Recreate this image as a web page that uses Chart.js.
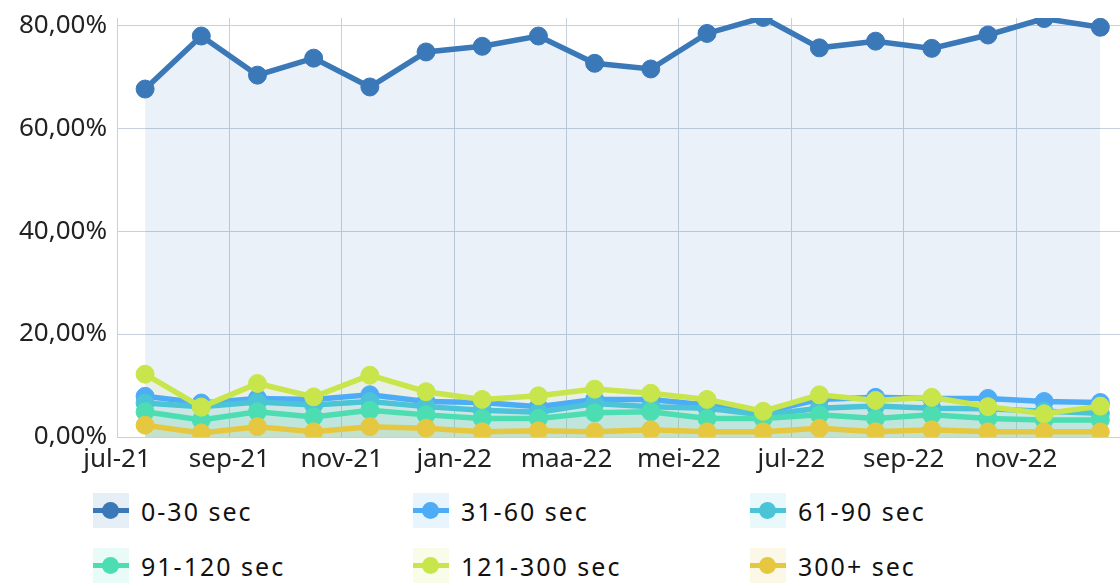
<!DOCTYPE html>
<html>
<head>
<meta charset="utf-8">
<script src="https://cdn.jsdelivr.net/npm/chart.js@4/dist/chart.umd.min.js"></script>
<style>
  html, body { margin: 0; padding: 0; background: #fff; overflow: hidden; }
  body { width: 1120px; height: 583px; position: relative; font-family: "Noto Sans", sans-serif; }
  #chart { position: absolute; left: 0; top: 0; }
  .item { position: absolute; height: 35px; display: flex; align-items: center; }
  .mark { position: relative; width: 36px; height: 35px; margin-right: 12px; }
  .mark .ln { position: absolute; left: 0; right: 0; top: 15px; height: 5px; }
  .mark .dot { position: absolute; left: 9px; top: 9px; width: 17px; height: 17px; border-radius: 50%; }
  .item span { font-size: 25px; letter-spacing: 2px; color: #111; }
</style>
</head>
<body>
<canvas id="chart" width="1120" height="475"></canvas>
<div id="legend"></div>
<script>
"use strict";
const months = ["jul-21", "aug-21", "sep-21", "okt-21", "nov-21", "dec-21", "jan-22", "feb-22", "maa-22",
  "apr-22", "mei-22", "jun-22", "jul-22", "aug-22", "sep-22", "okt-22", "nov-22", "dec-22"];
const xTickLabels = ["jul-21", "sep-21", "nov-21", "jan-22", "maa-22", "mei-22", "jul-22", "sep-22", "nov-22"];
const yTicks = [0, 20, 40, 60, 80];

const seriesNames = ["0-30 sec", "31-60 sec", "61-90 sec", "91-120 sec", "121-300 sec", "300+ sec"];
const s0_30 = [67.6, 77.9, 70.3, 73.6, 68.0, 74.8, 75.9, 77.9, 72.6, 71.5, 78.4, 81.5, 75.6, 76.9, 75.5, 78.1, 81.3, 79.6];
const s31_60 = [7.9, 6.6, 7.5, 7.3, 8.2, 6.9, 6.7, 5.9, 7.3, 7.3, 6.2, 4.8, 7.3, 7.7, 7.5, 7.5, 6.9, 6.7];
const s61_90 = [6.6, 5.9, 6.8, 6.2, 6.9, 5.9, 5.2, 4.8, 6.5, 5.9, 5.6, 4.3, 5.6, 6.0, 5.6, 5.5, 5.0, 4.6];
const s91_120 = [4.9, 3.3, 4.9, 3.9, 5.2, 4.3, 3.6, 3.6, 4.7, 4.9, 3.6, 3.6, 4.3, 3.6, 4.3, 3.6, 3.3, 3.3];
const s121_300 = [12.2, 5.8, 10.4, 7.8, 12.0, 8.8, 7.3, 8.0, 9.3, 8.5, 7.3, 5.0, 8.2, 7.1, 7.7, 5.9, 4.5, 6.0];
const s300 = [2.3, 0.8, 2.0, 1.0, 2.0, 1.7, 1.0, 1.2, 1.0, 1.4, 1.0, 1.0, 1.7, 1.0, 1.4, 1.0, 1.0, 1.0];

const allSeries = [s0_30, s31_60, s61_90, s91_120, s121_300, s300];
const colors = ["58,120,184", "78,172,246", "76,196,216", "76,222,178", "200,230,76", "230,200,64"];
const gridColor = "rgb(200,208,222)";

// month index i sits in the middle of its month, month starts at i - 0.5
const datasets = allSeries.map((vals, i) => ({
  label: seriesNames[i],
  data: vals.map((v, k) => ({ x: k, y: v })),
  borderColor: `rgb(${colors[i]})`,
  backgroundColor: `rgba(${colors[i]},0.1)`,
  pointBackgroundColor: `rgb(${colors[i]})`,
  pointBorderColor: `rgb(${colors[i]})`,
  borderWidth: 5.5,
  pointRadius: 9,
  pointBorderWidth: 1,
  tension: 0,
  fill: "origin",
  clip: 0,
  order: 10 - i
}));

const ctx = document.getElementById("chart").getContext("2d");
ctx.letterSpacing = "1.5px";

new Chart(ctx, {
  type: "line",
  data: { datasets },
  options: {
    responsive: false,
    animation: false,
    events: [],
    layout: { autoPadding: false, padding: { top: 18, right: 0, left: 0, bottom: 0 } },
    plugins: {
      legend: { display: false },
      tooltip: { enabled: false },
      filler: { drawTime: "beforeDatasetsDraw" }
    },
    scales: {
      x: {
        type: "linear",
        min: -0.5,
        max: 17.35,
        afterBuildTicks: s => { s.ticks = xTickLabels.map((_, k) => ({ value: k * 2 - 0.5 })); },
        afterFit: s => { s.height = 38; s.paddingLeft = 0; s.paddingRight = 0; },
        grid: { color: gridColor, drawTicks: false },
        border: { color: gridColor },
        ticks: {
          padding: 7,
          maxRotation: 0,
          autoSkip: false,
          color: "#222",
          font: { family: "Noto Sans", size: 26 },
          callback: (v, k) => xTickLabels[k]
        }
      },
      y: {
        min: 0,
        max: 81.4,
        afterBuildTicks: s => { s.ticks = yTicks.map(v => ({ value: v })); },
        afterFit: s => { s.width = 117; s.paddingTop = 0; s.paddingBottom = 0; },
        grid: { color: gridColor, drawTicks: false },
        border: { color: gridColor },
        ticks: {
          padding: 10,
          color: "#222",
          font: { family: "Noto Sans", size: 26 },
          callback: v => v.toFixed(2).replace(".", ",") + "%"
        }
      }
    }
  }
});

// legend, three columns x two rows
const legendPos = [[93, 493], [413, 493], [750, 493], [93, 548], [413, 548], [750, 548]];
const legend = document.getElementById("legend");
seriesNames.forEach((name, i) => {
  const item = document.createElement("div");
  item.className = "item";
  item.style.left = legendPos[i][0] + "px";
  item.style.top = legendPos[i][1] + "px";
  item.innerHTML = `<div class="mark" style="background:rgba(${colors[i]},0.12)">` +
    `<div class="ln" style="background:rgb(${colors[i]})"></div>` +
    `<div class="dot" style="background:rgb(${colors[i]})"></div></div><span>${name}</span>`;
  legend.appendChild(item);
});
</script>
</body>
</html>
